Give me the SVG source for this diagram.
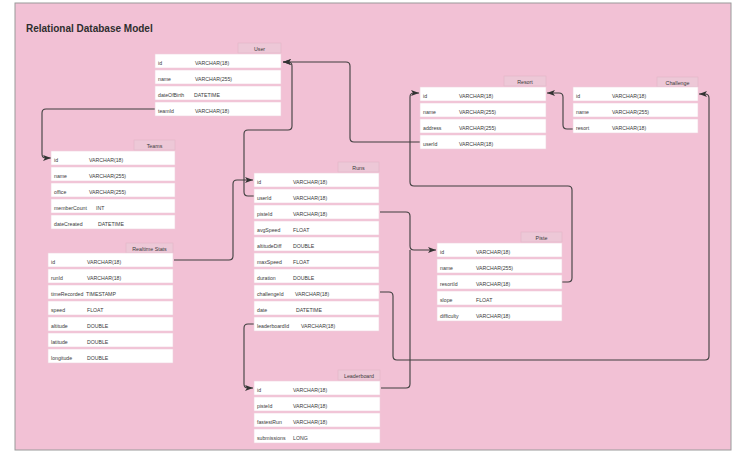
<svg xmlns="http://www.w3.org/2000/svg" width="744" height="460" viewBox="0 0 744 460">
<defs>
<style>
.bg{fill:#f2c1d5;stroke:#9a9a9a;stroke-width:1}
.tab{fill:#edc8d7;stroke:#e2b6c7;stroke-width:0.6}
.row{fill:#ffffff;stroke:#efcfdc;stroke-width:0.6}
.t{font-family:"Liberation Sans",Arial,sans-serif;font-size:5.2px;fill:#3a3a3a}
.h{font-family:"Liberation Sans",Arial,sans-serif;font-size:5.3px;fill:#3a3a3a;text-anchor:middle}
.title{font-family:"Liberation Sans",Arial,sans-serif;font-size:10px;font-weight:bold;fill:#2e2e2e}
.c{fill:none;stroke:#3f3f3f;stroke-width:1.1;stroke-linejoin:round}
</style>
<marker id="ah" markerUnits="userSpaceOnUse" markerWidth="9" markerHeight="7" refX="8" refY="3.5" orient="auto">
<path d="M0,0.6 L8,3.5 L0,6.4 L2,3.5 z" fill="#333"/>
</marker>
</defs>
<rect width="744" height="460" fill="#ffffff"/>
<rect class="bg" x="15" y="3" width="716" height="447"/>
<text class="title" x="26" y="32">Relational Database Model</text>

<g id="connectors">
<path class="c" d="M155,109 H46 Q42,109 42,113 V154 Q42,158 46,158 H51" marker-end="url(#ah)"/>
<path class="c" d="M254,196 H248 Q244,196 244,192 V134 Q244,130 248,130 H288 Q292,130 292,126 V66 Q292,62 288,62 H283" marker-end="url(#ah)"/>
<path class="c" d="M420,142 H354 Q350,142 350,138 V66 Q350,62 346,62 H283" marker-end="url(#ah)"/>
<path class="c" d="M562,282 H568 Q572,282 572,278 V190 Q572,186 568,186 H414 Q410,186 410,182 V97 Q410,93 414,93 H419" marker-end="url(#ah)"/>
<path class="c" d="M573,129 H567 Q563,129 563,125 V97 Q563,93 559,93 H547" marker-end="url(#ah)"/>
<path class="c" d="M380,292 H389 Q393,292 393,296 V356 Q393,360 397,360 H705 Q709,360 709,356 V98 Q709,94 705,94 H699" marker-end="url(#ah)"/>
<path class="c" d="M380,212 H406 Q410,212 410,216 V246 Q410,250 414,250 H436" marker-end="url(#ah)"/>
<path class="c" d="M381,388 H406 Q410,388 410,384 V250"/>
<path class="c" d="M254,324 H248 Q244,324 244,328 V384 Q244,388 248,388 H253" marker-end="url(#ah)"/>
<path class="c" d="M174,260 H229 Q233,260 233,256 V184 Q233,180 237,180 H253" marker-end="url(#ah)"/>
</g>

<g id="user">
<rect class="tab" x="238" y="43" width="43" height="10"/>
<text class="h" x="259.5" y="50.5">User</text>
<rect class="row" x="155" y="54" width="126" height="14"/>
<rect class="row" x="155" y="70" width="126" height="14"/>
<rect class="row" x="155" y="86" width="126" height="14"/>
<rect class="row" x="155" y="102" width="126" height="14"/>
<text class="t" x="158" y="65">id</text><text class="t" x="195" y="65">VARCHAR(18)</text>
<text class="t" x="158" y="81">name</text><text class="t" x="195" y="81">VARCHAR(255)</text>
<text class="t" x="158" y="97">dateOfBirth</text><text class="t" x="194" y="97">DATETIME</text>
<text class="t" x="158" y="113">teamId</text><text class="t" x="195" y="113">VARCHAR(18)</text>
</g>

<g id="teams">
<rect class="tab" x="134" y="140" width="41" height="10"/>
<text class="h" x="154.5" y="147.5">Teams</text>
<rect class="row" x="51" y="151" width="124" height="14"/>
<rect class="row" x="51" y="167" width="124" height="14"/>
<rect class="row" x="51" y="183" width="124" height="14"/>
<rect class="row" x="51" y="199" width="124" height="14"/>
<rect class="row" x="51" y="215" width="124" height="14"/>
<text class="t" x="54" y="162">id</text><text class="t" x="89" y="162">VARCHAR(18)</text>
<text class="t" x="54" y="178">name</text><text class="t" x="89" y="178">VARCHAR(255)</text>
<text class="t" x="54" y="194">office</text><text class="t" x="89" y="194">VARCHAR(255)</text>
<text class="t" x="54" y="210">memberCount</text><text class="t" x="96" y="210">INT</text>
<text class="t" x="54" y="226">dateCreated</text><text class="t" x="98" y="226">DATETIME</text>
</g>

<g id="realtime-stats">
<rect class="tab" x="126" y="243" width="47" height="10"/>
<text class="h" x="149.5" y="250.5">Realtime Stats</text>
<rect class="row" x="48" y="253" width="125" height="14"/>
<rect class="row" x="48" y="269" width="125" height="14"/>
<rect class="row" x="48" y="285" width="125" height="14"/>
<rect class="row" x="48" y="301" width="125" height="14"/>
<rect class="row" x="48" y="317" width="125" height="14"/>
<rect class="row" x="48" y="333" width="125" height="14"/>
<rect class="row" x="48" y="349" width="125" height="14"/>
<text class="t" x="51" y="264">id</text><text class="t" x="87" y="264">VARCHAR(18)</text>
<text class="t" x="51" y="280">runId</text><text class="t" x="87" y="280">VARCHAR(18)</text>
<text class="t" x="51" y="296">timeRecorded</text><text class="t" x="86" y="296">TIMESTAMP</text>
<text class="t" x="51" y="312">speed</text><text class="t" x="87" y="312">FLOAT</text>
<text class="t" x="51" y="328">altitude</text><text class="t" x="87" y="328">DOUBLE</text>
<text class="t" x="51" y="344">latitude</text><text class="t" x="87" y="344">DOUBLE</text>
<text class="t" x="51" y="360">longitude</text><text class="t" x="87" y="360">DOUBLE</text>
</g>

<g id="runs">
<rect class="tab" x="338" y="162" width="41" height="10"/>
<text class="h" x="358.5" y="169.5">Runs</text>
<rect class="row" x="254" y="173" width="125" height="14"/>
<rect class="row" x="254" y="189" width="125" height="14"/>
<rect class="row" x="254" y="205" width="125" height="14"/>
<rect class="row" x="254" y="221" width="125" height="14"/>
<rect class="row" x="254" y="237" width="125" height="14"/>
<rect class="row" x="254" y="253" width="125" height="14"/>
<rect class="row" x="254" y="269" width="125" height="14"/>
<rect class="row" x="254" y="285" width="125" height="14"/>
<rect class="row" x="254" y="301" width="125" height="14"/>
<rect class="row" x="254" y="317" width="125" height="14"/>
<text class="t" x="257" y="184">id</text><text class="t" x="293" y="184">VARCHAR(18)</text>
<text class="t" x="257" y="200">userId</text><text class="t" x="293" y="200">VARCHAR(18)</text>
<text class="t" x="257" y="216">pisteId</text><text class="t" x="293" y="216">VARCHAR(18)</text>
<text class="t" x="257" y="232">avgSpeed</text><text class="t" x="293" y="232">FLOAT</text>
<text class="t" x="257" y="248">altitudeDiff</text><text class="t" x="293" y="248">DOUBLE</text>
<text class="t" x="257" y="264">maxSpeed</text><text class="t" x="293" y="264">FLOAT</text>
<text class="t" x="257" y="280">duration</text><text class="t" x="293" y="280">DOUBLE</text>
<text class="t" x="257" y="296">challengeId</text><text class="t" x="295" y="296">VARCHAR(18)</text>
<text class="t" x="257" y="312">date</text><text class="t" x="296" y="312">DATETIME</text>
<text class="t" x="257" y="328">leaderboardId</text><text class="t" x="301" y="328">VARCHAR(18)</text>
</g>

<g id="leaderboard">
<rect class="tab" x="338" y="370" width="42" height="10"/>
<text class="h" x="359" y="377.5">Leaderboard</text>
<rect class="row" x="254" y="381" width="126" height="14"/>
<rect class="row" x="254" y="397" width="126" height="14"/>
<rect class="row" x="254" y="413" width="126" height="14"/>
<rect class="row" x="254" y="429" width="126" height="14"/>
<text class="t" x="257" y="392">id</text><text class="t" x="293" y="392">VARCHAR(18)</text>
<text class="t" x="257" y="408">pisteId</text><text class="t" x="293" y="408">VARCHAR(18)</text>
<text class="t" x="257" y="424">fastestRun</text><text class="t" x="293" y="424">VARCHAR(18)</text>
<text class="t" x="257" y="440">submissions</text><text class="t" x="293" y="440">LONG</text>
</g>

<g id="resort">
<rect class="tab" x="504" y="76" width="42" height="10"/>
<text class="h" x="525" y="83.5">Resort</text>
<rect class="row" x="420" y="87" width="126" height="14"/>
<rect class="row" x="420" y="103" width="126" height="14"/>
<rect class="row" x="420" y="119" width="126" height="14"/>
<rect class="row" x="420" y="135" width="126" height="14"/>
<text class="t" x="423" y="98">id</text><text class="t" x="459" y="98">VARCHAR(18)</text>
<text class="t" x="423" y="114">name</text><text class="t" x="459" y="114">VARCHAR(255)</text>
<text class="t" x="423" y="130">address</text><text class="t" x="459" y="130">VARCHAR(255)</text>
<text class="t" x="423" y="146">userId</text><text class="t" x="459" y="146">VARCHAR(18)</text>
</g>

<g id="challenge">
<rect class="tab" x="657" y="77" width="41" height="10"/>
<text class="h" x="677.5" y="84.5">Challenge</text>
<rect class="row" x="573" y="87" width="125" height="14"/>
<rect class="row" x="573" y="103" width="125" height="14"/>
<rect class="row" x="573" y="119" width="125" height="14"/>
<text class="t" x="576" y="98">id</text><text class="t" x="612" y="98">VARCHAR(18)</text>
<text class="t" x="576" y="114">name</text><text class="t" x="612" y="114">VARCHAR(255)</text>
<text class="t" x="576" y="130">resort</text><text class="t" x="612" y="130">VARCHAR(18)</text>
</g>

<g id="piste">
<rect class="tab" x="521" y="232" width="41" height="10"/>
<text class="h" x="541.5" y="239.5">Piste</text>
<rect class="row" x="437" y="243" width="125" height="14"/>
<rect class="row" x="437" y="259" width="125" height="14"/>
<rect class="row" x="437" y="275" width="125" height="14"/>
<rect class="row" x="437" y="291" width="125" height="14"/>
<rect class="row" x="437" y="307" width="125" height="14"/>
<text class="t" x="440" y="254">id</text><text class="t" x="476" y="254">VARCHAR(18)</text>
<text class="t" x="440" y="270">name</text><text class="t" x="476" y="270">VARCHAR(255)</text>
<text class="t" x="440" y="286">resortId</text><text class="t" x="476" y="286">VARCHAR(18)</text>
<text class="t" x="440" y="302">slope</text><text class="t" x="476" y="302">FLOAT</text>
<text class="t" x="440" y="318">difficulty</text><text class="t" x="476" y="318">VARCHAR(18)</text>
</g>
</svg>
